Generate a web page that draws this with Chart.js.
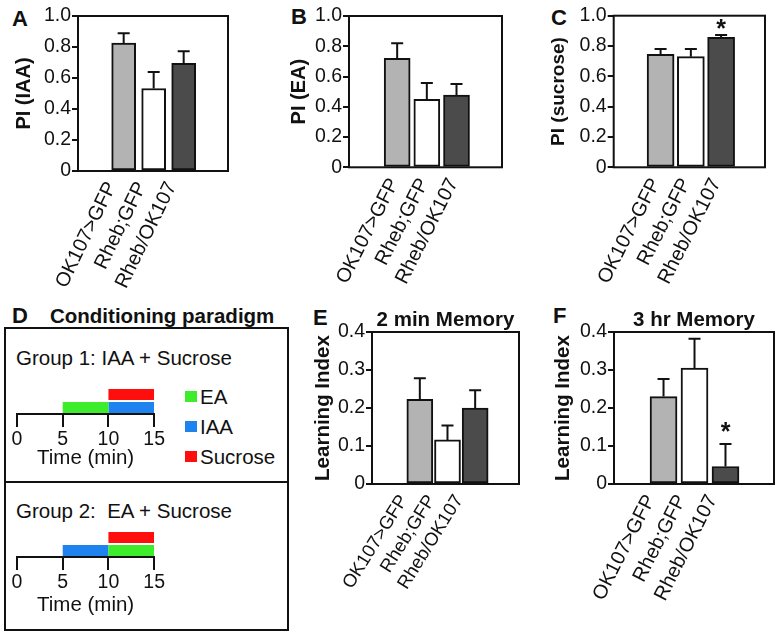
<!DOCTYPE html>
<html><head><meta charset="utf-8">
<script src="https://cdn.jsdelivr.net/npm/chart.js@4"></script>
<style>
html,body{margin:0;padding:0;background:#fff;}
body{width:776px;height:637px;position:relative;overflow:hidden;font-family:"Liberation Sans",Arial,sans-serif;color:#111;}
canvas{position:absolute;}
.t{position:absolute;line-height:1;white-space:pre;}
.lab{font-weight:bold;font-size:22px;}
.box{position:absolute;border:2px solid #111;box-sizing:border-box;}
.sq{position:absolute;width:12px;height:11px;}
</style></head><body>

<div class="t lab" style="left:12px;top:8px">A</div>
<div class="t lab" style="left:291px;top:6px">B</div>
<div class="t lab" style="left:551px;top:7px">C</div>
<div class="t lab" style="left:12px;top:305px">D</div>
<div class="t" style="left:50px;top:306px;font-weight:bold;font-size:20.5px">Conditioning paradigm</div>
<div class="t lab" style="left:313px;top:307px">E</div>
<div class="t lab" style="left:553px;top:305px">F</div>

<div class="box" style="left:4px;top:327px;width:285px;height:156px"></div>
<div class="box" style="left:4px;top:481px;width:285px;height:150px"></div>
<div class="t" style="left:16px;top:348px;font-size:20.5px">Group 1: IAA + Sucrose</div>
<div class="t" style="left:16px;top:501px;font-size:20.5px">Group 2:  EA + Sucrose</div>
<div id="legend"></div>

<canvas id="cA" width="250" height="300" style="left:0;top:0"></canvas>
<canvas id="cB" width="256" height="300" style="left:252px;top:0"></canvas>
<canvas id="cC" width="266" height="300" style="left:510px;top:0"></canvas>
<canvas id="cG1" width="160" height="150" style="left:6px;top:330px"></canvas>
<canvas id="cG2" width="160" height="144" style="left:6px;top:484px"></canvas>
<canvas id="cE" width="235" height="337" style="left:290px;top:300px"></canvas>
<canvas id="cF" width="246" height="337" style="left:530px;top:300px"></canvas>

<script>
// ---------- data ----------
const cats = ['OK107>GFP', 'Rheb;GFP', 'Rheb/OK107'];

const piIAA      = [0.825, 0.532, 0.695];
const piIAA_sem  = [0.063, 0.106, 0.078];
const piEA       = [0.72, 0.45, 0.478];
const piEA_sem   = [0.10, 0.107, 0.072];
const piSuc      = [0.745, 0.73, 0.858];
const piSuc_sem  = [0.035, 0.05, 0.015];
const li2min     = [0.223, 0.116, 0.20];
const li2min_sem = [0.055, 0.038, 0.047];
const li3hr      = [0.23, 0.305, 0.046];
const li3hr_sem  = [0.046, 0.077, 0.059];

const sigA = ['', '', ''];
const sigB = ['', '', ''];
const sigC = ['', '', '*'];
const sigE = ['', '', ''];
const sigF = ['', '', '*'];

const piTicks = [0, 0.2, 0.4, 0.6, 0.8, 1.0];
const liTicks = [0, 0.1, 0.2, 0.3, 0.4];

// conditioning paradigm (minutes)
const timeTicks = [0, 5, 10, 15];
const rows = ['upper', 'lower'];
const stimuli = ['EA', 'IAA', 'Sucrose'];
const group1EA = [null, [5, 10]];
const group1IAA = [null, [10, 15]];
const group1Suc = [[10, 15], null];
const group2EA = [null, [10, 15]];
const group2IAA = [null, [5, 10]];
const group2Suc = [[10, 15], null];

// ---------- styles ----------
const FF = '"Liberation Sans", Arial, sans-serif';
const INK = '#111';
const fills = ['#b3b3b3', '#ffffff', '#4b4b4b'];
const stimColors = ['#3dec2b', '#1e83ee', '#ff0e0e'];

const frame = {
  id: 'frame',
  afterDatasetsDraw(chart) {
    const {ctx, chartArea: a} = chart;
    ctx.save();
    ctx.strokeStyle = INK; ctx.lineWidth = 2;
    ctx.strokeRect(a.left, a.top, a.right - a.left, a.bottom - a.top);
    ctx.restore();
  }
};

const errbars = {
  id: 'errbars',
  afterDatasetsDraw(chart, args, opts) {
    const meta = chart.getDatasetMeta(0);
    const ys = chart.scales.y;
    const data = chart.data.datasets[0].data;
    const ctx = chart.ctx;
    ctx.save();
    ctx.strokeStyle = INK; ctx.lineWidth = 2;
    meta.data.forEach((bar, i) => {
      const v = data[i].y;
      const top = ys.getPixelForValue(v + opts.sem[i]);
      const base = ys.getPixelForValue(v);
      ctx.beginPath();
      ctx.moveTo(bar.x, base); ctx.lineTo(bar.x, top);
      ctx.moveTo(bar.x - opts.cap / 2, top); ctx.lineTo(bar.x + opts.cap / 2, top);
      ctx.stroke();
      if (opts.sig && opts.sig[i]) {
        ctx.fillStyle = INK;
        ctx.font = 'bold 25px ' + FF;
        ctx.textAlign = 'center'; ctx.textBaseline = 'middle';
        ctx.fillText(opts.sig[i], bar.x, top - opts.starOff);
      }
    });
    ctx.restore();
  }
};

function barPanel(id, vals, sem, sig, ticks, o) {
  return new Chart(document.getElementById(id), {
    type: 'bar',
    data: {
      labels: cats,
      datasets: [{
        data: vals.map((v, i) => ({x: i, y: v})),
        backgroundColor: fills, borderColor: INK, borderWidth: 2,
        borderSkipped: false, barThickness: o.bw
      }]
    },
    options: {
      responsive: false, animation: false, devicePixelRatio: 1,
      layout: {padding: {top: o.padTop, right: o.padRight, left: 0, bottom: 0}},
      plugins: {
        legend: {display: false}, tooltip: {enabled: false},
        title: o.title ? {display: true, text: o.title, fullSize: false, color: INK,
          font: {family: FF, size: 20.5, weight: 'bold', lineHeight: 1}, padding: {top: 0, bottom: 1.5}} : {display: false},
        errbars: {sem: sem, sig: sig, cap: 12, starOff: o.starOff || 0}
      },
      scales: {
        x: {
          type: 'linear', min: o.xmin, max: o.xmax,
          afterBuildTicks: s => { s.ticks = cats.map((c, i) => ({value: i})); },
          afterFit: s => { s.height = o.xh; },
          grid: {display: false, drawTicks: false}, border: {display: false},
          ticks: {callback: v => cats[v], minRotation: o.rot, maxRotation: o.rot, autoSkip: false,
            font: {family: FF, size: o.xfs}, color: INK, padding: o.xpad, labelOffset: o.lofs}
        },
        y: {
          min: ticks[0], max: ticks[ticks.length - 1],
          afterBuildTicks: s => { s.ticks = ticks.map(v => ({value: v})); },
          afterFit: s => { s.width = o.yw; },
          grid: {display: true, drawOnChartArea: false, drawTicks: true, tickLength: 6, color: INK, lineWidth: 2},
          border: {display: false},
          ticks: {callback: v => v === 0 ? '0' : v.toFixed(1), font: {family: FF, size: 19.5}, color: INK, padding: 1},
          title: {display: true, text: o.ytitle, color: INK,
            font: {family: FF, size: o.ytSize, weight: 'bold', lineHeight: 1}, padding: {top: o.ytPad, bottom: 0}}
        }
      }
    },
    plugins: [frame, errbars]
  });
}

barPanel('cA', piIAA, piIAA_sem, sigA, piTicks, {bw: 24, padTop: 16, padRight: 22, yw: 78, xh: 129,
  xmin: -0.689, xmax: 2.644, rot: 64, xfs: 20, xpad: 7, lofs: -12, ytitle: 'PI (IAA)', ytSize: 20, ytPad: 14});
barPanel('cB', piEA, piEA_sem, sigB, piTicks, {bw: 26, padTop: 16, padRight: 6, yw: 97, xh: 132.7,
  xmin: -0.764, xmax: 2.674, rot: 63, xfs: 20, xpad: 7, lofs: -3, ytitle: 'PI (EA)', ytSize: 20, ytPad: 37});
barPanel('cC', piSuc, piSuc_sem, sigC, piTicks, {bw: 27, padTop: 15.7, padRight: 11, yw: 103.7, xh: 132.7,
  xmin: -0.716, xmax: 2.617, rot: 63, xfs: 20, xpad: 7, lofs: -5, ytitle: 'PI (sucrose)', ytSize: 19, ytPad: 39.5, starOff: 5});
barPanel('cE', li2min, li2min_sem, sigE, liTicks, {bw: 26, padTop: 10, padRight: 6, yw: 82, xh: 153,
  xmin: -0.843, xmax: 2.699, rot: 58, xfs: 18.5, xpad: 7, lofs: -16, ytitle: 'Learning Index', ytSize: 20.5, ytPad: 22.75, title: '2 min Memory'});
barPanel('cF', li3hr, li3hr_sem, sigF, liTicks, {bw: 27, padTop: 10, padRight: 2, yw: 84, xh: 153,
  xmin: -0.738, xmax: 2.705, rot: 63, xfs: 20, xpad: 7, lofs: -13, ytitle: 'Learning Index', ytSize: 20.5, ytPad: 22.75, title: '3 hr Memory', starOff: 11});

function paradigm(id, series, o) {
  return new Chart(document.getElementById(id), {
    type: 'bar',
    data: {
      labels: rows,
      datasets: stimuli.map((s, k) => ({label: s, data: series[k], backgroundColor: stimColors[k],
        borderWidth: 0, grouped: false, barPercentage: 0.85, categoryPercentage: 1}))
    },
    options: {
      indexAxis: 'y', responsive: false, animation: false, devicePixelRatio: 1,
      layout: {padding: {left: 11, right: 8, top: o.top, bottom: 0}},
      plugins: {legend: {display: false}, tooltip: {enabled: false}},
      scales: {
        y: {display: false, offset: true},
        x: {
          type: 'linear', min: timeTicks[0], max: timeTicks[timeTicks.length - 1],
          afterBuildTicks: s => { s.ticks = timeTicks.map(v => ({value: v})); },
          afterFit: s => { s.height = o.xh; },
          grid: {display: true, drawOnChartArea: false, tickLength: 13, color: INK, lineWidth: 2},
          border: {display: true, color: INK, width: 2},
          ticks: {font: {family: FF, size: 19.5}, color: INK, padding: 1, maxRotation: 0},
          title: {display: true, text: 'Time (min)', color: INK,
            font: {family: FF, size: 20.5, lineHeight: 1.2}, padding: {top: 0, bottom: o.tb}}
        }
      }
    }
  });
}
paradigm('cG1', [group1EA, group1IAA, group1Suc], {top: 58, xh: 66, tb: 9.7});
paradigm('cG2', [group2EA, group2IAA, group2Suc], {top: 47, xh: 71, tb: 10.7});

// legend for the paradigm (built from the stimulus list)
const legendTops = [397, 427, 457];
const lg = document.getElementById('legend');
stimuli.forEach((s, k) => {
  const sq = document.createElement('div');
  sq.className = 'sq';
  sq.style.left = '185px'; sq.style.top = (legendTops[k] - 6) + 'px';
  sq.style.background = stimColors[k];
  lg.appendChild(sq);
  const tx = document.createElement('div');
  tx.className = 't';
  tx.style.left = '200px'; tx.style.top = (legendTops[k] - 10) + 'px'; tx.style.fontSize = '20.5px';
  tx.textContent = s;
  lg.appendChild(tx);
});
</script>
</body></html>
